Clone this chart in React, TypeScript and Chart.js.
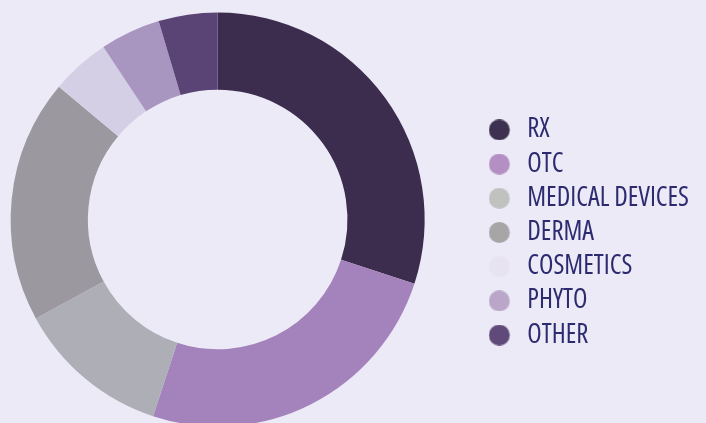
import React, { useEffect, useRef } from 'react';
import { Chart, registerables } from 'chart.js';

Chart.register(...registerables);

const categories = ['RX', 'OTC', 'MEDICAL DEVICES', 'DERMA', 'COSMETICS', 'PHYTO', 'OTHER'];
const shares = [30, 25, 12, 19, 4.6, 4.7, 4.6];
const sliceColors = ['#3C2D4F', '#A483BC', '#AEAEB7', '#9B989F', '#D5CFE6', '#A895C0', '#5A4475'];
const legendColors = ['#3E3050', '#B48FC4', '#C0C2C0', '#A7A5A6', '#E8E3F0', '#B9A6C9', '#5F4A7A'];
const BG = '#ECEAF6';
const TEXT = '#2D2B6F';

const SHIFT = 46;

function makeMarker(color: string): HTMLCanvasElement {
  const c = document.createElement('canvas');
  c.width = 26;
  c.height = 21;
  const ctx = c.getContext('2d')!;
  ctx.fillStyle = color;
  ctx.beginPath();
  ctx.arc(10.75, 10.5, 10.5, 0, Math.PI * 2);
  ctx.fill();
  return c;
}

export default function App() {
  const ref = useRef<HTMLCanvasElement>(null);
  useEffect(() => {
    document.body.style.margin = '0';
    document.body.style.overflow = 'hidden';
    document.documentElement.style.overflow = 'hidden';
    document.body.style.background = BG;
    const markers = legendColors.map(makeMarker);
    const chart = new Chart(ref.current!, {
      type: 'doughnut',
      data: {
        labels: categories,
        datasets: [{ data: shares, backgroundColor: sliceColors, borderWidth: 0 }],
      },
      options: {
        animation: false,
        responsive: false,
        cutout: '62.7%',
        layout: { padding: { left: 0, top: 12.5, bottom: 13.5, right: 7 } },
        plugins: {
          tooltip: { enabled: false },
          legend: {
            position: 'right',
            title: { display: true, text: ' ', font: { size: 10, lineHeight: 1.2 }, padding: 7 },
            labels: {
              usePointStyle: true,
              boxWidth: 25,
              boxHeight: 15,
              padding: 7.7,
              color: TEXT,
              font: { family: "'Open Sans', 'Liberation Sans Narrow', sans-serif", size: 26.5, weight: '400 condensed' as any },
              generateLabels: () =>
                categories.map((t, i) => ({
                  text: t,
                  fillStyle: legendColors[i],
                  strokeStyle: legendColors[i],
                  lineWidth: 0,
                  pointStyle: markers[i] as any,
                  hidden: false,
                  index: i,
                  fontColor: TEXT,
                })),
            },
          },
        },
      },
    });
    return () => chart.destroy();
  }, []);
  return (
    <div style={{ width: 706, height: 423, overflow: 'hidden', background: BG }}>
      <canvas
        ref={ref}
        width={706 + SHIFT}
        height={440}
        style={{ display: 'block', marginLeft: -SHIFT }}
      />
    </div>
  );
}
